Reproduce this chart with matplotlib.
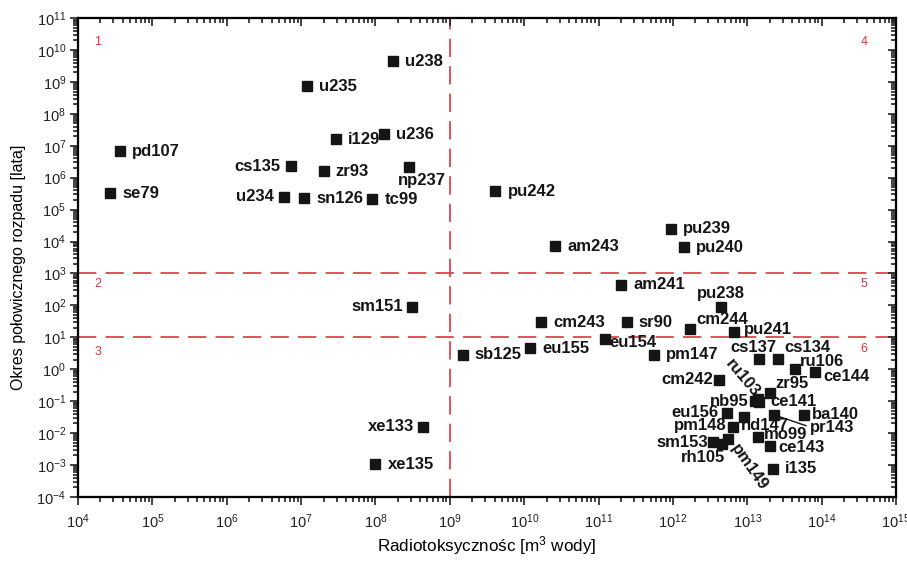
import numpy as np
import matplotlib
matplotlib.use("Agg")
import matplotlib.pyplot as plt
from matplotlib.ticker import LogLocator, NullFormatter

plt.rcParams['font.family'] = ['Liberation Sans', 'DejaVu Sans']
plt.rcParams['mathtext.default'] = 'regular'

# izotopy: radiotoksycznosc [m3 wody] i okres polowicznego rozpadu [lata]
izotopy = ['pd107', 'se79', 'cs135', 'u234', 'sn126', 'zr93', 'i129', 'u236',
           'np237', 'tc99', 'u235', 'u238', 'pu242', 'am243', 'pu239', 'pu240',
           'am241', 'pu238', 'cm243', 'sr90', 'cm244', 'pu241', 'eu154', 'eu155',
           'sb125', 'pm147', 'sm151', 'cs137', 'cs134', 'ru106', 'ce144', 'cm242',
           'zr95', 'nb95', 'ru103', 'ce141', 'eu156', 'nd147', 'pm148', 'pr143',
           'ba140', 'mo99', 'ce143', 'sm153', 'rh105', 'pm149', 'i135', 'xe133',
           'xe135']
radiotoks = [3.7e4, 2.7e4, 7.2e6, 5.8e6, 1.1e7, 2.0e7, 2.9e7, 1.3e8,
             2.8e8, 9.1e7, 1.2e7, 1.7e8, 4.1e9, 2.6e10, 9.3e11, 1.4e12,
             2.0e11, 4.4e12, 1.7e10, 2.4e11, 1.7e12, 6.6e12, 1.2e11, 1.2e10,
             1.5e9, 5.5e11, 3.1e8, 1.45e13, 2.6e13, 4.4e13, 8.1e13, 4.2e12,
             2.0e13, 1.26e13, 1.38e13, 1.45e13, 5.4e12, 8.9e12, 6.5e12, 2.3e13,
             5.8e13, 1.4e13, 2.0e13, 3.5e12, 4.5e12, 5.5e12, 2.2e13, 4.4e8,
             1.0e8]
okres = [6.8e6, 3.3e5, 2.3e6, 2.5e5, 2.3e5, 1.6e6, 1.6e7, 2.3e7,
         2.15e6, 2.1e5, 7.4e8, 4.5e9, 3.8e5, 7.2e3, 2.5e4, 6.7e3,
         440, 89, 30, 30, 18, 15, 8.9, 4.6,
         2.8, 2.8, 89, 2.1, 2.1, 1.0, 0.82, 0.46,
         0.18, 0.10, 0.115, 0.094, 0.043, 0.032, 0.0155, 0.037,
         0.037, 0.0076, 0.004, 0.0052, 0.0046, 0.0065, 0.00075, 0.0155,
         0.00107]

granica_x = 1e9
granice_y = [1e3, 1e1]
obszary = ['1', '2', '3', '4', '5', '6']

# przesuniecia etykiet w pikselach: (dx, dy, ha, rotacja)
styl = {
    'cs135': (-10, 0, 'right', 0), 'u234': (-10, 0, 'right', 0),
    'np237': (13, -13, 'center', 0), 'pu238': (0, 13, 'center', 0),
    'cm244': (6, 10, 'left', 0), 'pu241': (10, 2, 'left', 0),
    'eu154': (5, -4, 'left', 0), 'cs137': (-6, 11, 'center', 0),
    'cs134': (6, 11, 'left', 0), 'ru106': (5, 8, 'left', 0),
    'ce144': (8, -5, 'left', 0), 'cm242': (-6, 0, 'right', 0),
    'zr95': (6, 9, 'left', 0), 'ru103': (-15, 21, 'center', -50),
    'nb95': (-6, 0, 'right', 0), 'ce141': (11, 0, 'left', 0),
    'eu156': (-9, 0, 'right', 0), 'nd147': (-3, -9, 'left', 0),
    'pm148': (-7, 1, 'right', 0), 'pr143': (36, -13, 'left', 0),
    'ba140': (8, 0, 'left', 0), 'mo99': (6, 2, 'left', 0),
    'ce143': (9, -2, 'left', 0), 'sm153': (-5, 0, 'right', 0),
    'rh105': (4, -14, 'right', 0), 'pm149': (21, -28, 'center', -55),
    'sm151': (-9, 0, 'right', 0), 'xe133': (-9, 0, 'right', 0),
}

fig = plt.figure(figsize=(9.07, 5.64), dpi=100)
ax = fig.add_axes([0.086, 0.119, 0.902, 0.849])

ax.set_xscale('log')
ax.set_yscale('log')
ax.set_xlim(1e4, 1e15)
ax.set_ylim(1e-4, 1e11)

czerwony = '#d9363e'
ax.axvline(granica_x, color=czerwony, lw=1.2, dashes=(11, 5.5))
for g in granice_y:
    ax.axhline(g, color=czerwony, lw=1.2, dashes=(11, 5.5))

ax.plot(radiotoks, okres, 's', color='#151515', markersize=7, zorder=3)

for nazwa, x, y in zip(izotopy, radiotoks, okres):
    dx, dy, ha, rot = styl.get(nazwa, (12, 0, 'left', 0))
    strzalka = None
    if nazwa == 'pr143':
        strzalka = dict(arrowstyle='-', color='#151515', lw=1, shrinkA=1,
                        shrinkB=4, relpos=(0, 0.55))
    ax.annotate(nazwa, (x, y), xytext=(dx, dy), textcoords='offset pixels',
                ha=ha, va='center', rotation=rot, fontsize=12,
                fontweight='bold', color='#151515', zorder=4,
                arrowprops=strzalka)

# numery obszarow
poz = [(0.0245, 0.950), (0.0245, 0.445), (0.0245, 0.303),
       (0.961, 0.950), (0.961, 0.445), (0.961, 0.309)]
for t, (px, py) in zip(obszary, poz):
    ax.text(px, py, t, transform=ax.transAxes, color=czerwony, fontsize=9,
            ha='center', va='center')


def ustaw_osie(a):
    a.xaxis.set_major_locator(LogLocator(base=10, numticks=20))
    a.yaxis.set_major_locator(LogLocator(base=10, numticks=20))
    a.xaxis.set_minor_locator(LogLocator(base=10, subs=np.arange(2, 10), numticks=20))
    a.yaxis.set_minor_locator(LogLocator(base=10, subs=np.arange(2, 10), numticks=20))
    a.xaxis.set_minor_formatter(NullFormatter())
    a.yaxis.set_minor_formatter(NullFormatter())


ustaw_osie(ax)
ax.tick_params(which='both', direction='out', top=False, right=False,
               width=1.2, colors='#222222')
ax.tick_params(which='major', length=6, labelsize=10.5)
ax.tick_params(which='minor', length=3.5)
ax.tick_params(axis='x', which='major', pad=5)
ax.tick_params(axis='y', which='major', pad=2.5)

# gorna i prawa os z kreskami do srodka
ax_g = ax.twiny()
ax_g.set_xscale('log')
ax_g.set_xlim(ax.get_xlim())
ax_p = ax.twinx()
ax_p.set_yscale('log')
ax_p.set_ylim(ax.get_ylim())
for a in (ax_g, ax_p):
    ustaw_osie(a)
    a.tick_params(which='both', direction='in', width=1.2, colors='#222222',
                  labeltop=False, labelright=False)
    a.tick_params(which='major', length=6)
    a.tick_params(which='minor', length=3.5)
    for s in a.spines.values():
        s.set_linewidth(1.5)
ax_g.tick_params(axis='y', which='both', left=False, right=False, labelleft=False)
ax_p.tick_params(axis='x', which='both', top=False, bottom=False, labelbottom=False)

for s in ax.spines.values():
    s.set_linewidth(1.5)

ax.set_xlabel('Radiotoksycznośc [m$^3$ wody]', fontsize=12.3)
ax.set_ylabel('Okres połowicznego rozpadu [lata]', fontsize=11.5)
ax.xaxis.set_label_coords(0.5, -0.077)
ax.yaxis.set_label_coords(-0.064, 0.48)

fig.savefig('out.png', dpi=100)
